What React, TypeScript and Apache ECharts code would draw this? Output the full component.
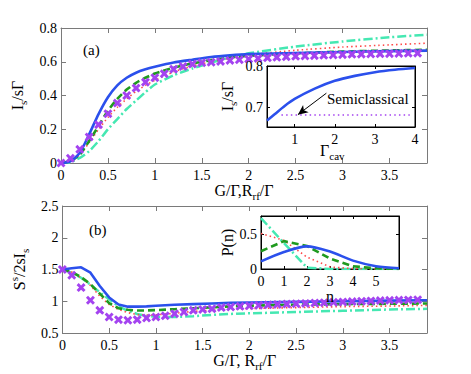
import React, { useEffect, useRef } from 'react';
import * as echarts from 'echarts';

const FONT = 'Times New Roman, Liberation Serif, serif';
const GRAY = '#7a7a7a';
const C_BLUE = '#2b50ec';
const C_GREEN = '#1f9a1f';
const C_RED = '#ff4a4a';
const C_CYAN = '#45e8b2';
const C_PURPLE = '#a443f0';

// ---- panel (a) / (b) shared x grid for lines ----
const xLine = [0, 0.1, 0.2, 0.3, 0.4, 0.5, 0.6, 0.7, 0.8, 0.9, 1.0, 1.2, 1.4, 1.6, 1.8, 2.0, 2.5, 3.0, 3.5, 3.9];
const xCross = [0, 0.1, 0.2, 0.3, 0.4, 0.5, 0.6, 0.7, 0.8, 0.9, 1.0, 1.1, 1.2, 1.3, 1.4, 1.5, 1.6, 1.7, 1.8, 1.9,
  2.0, 2.1, 2.2, 2.3, 2.4, 2.5, 2.6, 2.7, 2.8, 2.9, 3.0, 3.1, 3.2, 3.3, 3.4, 3.5, 3.6, 3.7, 3.8];

// panel (a): I_s / sΓ
const blueA = [0, 0.01, 0.06, 0.17, 0.29, 0.39, 0.46, 0.505, 0.535, 0.555, 0.57, 0.595, 0.612, 0.628, 0.638, 0.645, 0.652, 0.658, 0.663, 0.666];
const greenA = [0, 0.01, 0.05, 0.13, 0.22, 0.31, 0.38, 0.435, 0.475, 0.505, 0.53, 0.565, 0.59, 0.61, 0.625, 0.635, 0.65, 0.66, 0.667, 0.671];
const redA = [0, 0.01, 0.05, 0.12, 0.2, 0.27, 0.33, 0.38, 0.425, 0.46, 0.49, 0.54, 0.575, 0.6, 0.62, 0.64, 0.668, 0.687, 0.7, 0.71];
const cyanA = [0, 0.005, 0.03, 0.07, 0.13, 0.2, 0.26, 0.32, 0.37, 0.42, 0.465, 0.52, 0.56, 0.595, 0.625, 0.65, 0.69, 0.72, 0.745, 0.76];
const purpleA = [0, 0.028, 0.081, 0.154, 0.227, 0.292, 0.355, 0.4, 0.444, 0.479, 0.505, 0.529, 0.556, 0.572, 0.586, 0.594, 0.597, 0.602, 0.608, 0.612,
  0.616, 0.62, 0.623, 0.626, 0.629, 0.632, 0.634, 0.636, 0.638, 0.64, 0.642, 0.644, 0.645, 0.646, 0.647, 0.648, 0.649, 0.65, 0.651];

// panel (b): S^s / 2sI_s
const blueB = [1.5, 1.52, 1.535, 1.45, 1.24, 1.06, 0.95, 0.915, 0.915, 0.92, 0.93, 0.945, 0.955, 0.965, 0.975, 0.98, 0.99, 1.0, 1.01, 1.015];
const greenB = [1.5, 1.46, 1.38, 1.27, 1.12, 0.97, 0.89, 0.865, 0.855, 0.855, 0.86, 0.875, 0.89, 0.905, 0.92, 0.93, 0.945, 0.955, 0.96, 0.965];
const redB = [1.5, 1.46, 1.37, 1.25, 1.08, 0.95, 0.87, 0.82, 0.79, 0.78, 0.785, 0.81, 0.84, 0.86, 0.875, 0.885, 0.9, 0.915, 0.925, 0.935];
const cyanB = [1.5, 1.45, 1.37, 1.26, 1.14, 1.03, 0.92, 0.85, 0.8, 0.77, 0.755, 0.75, 0.765, 0.785, 0.8, 0.81, 0.83, 0.85, 0.87, 0.88];
const purpleB = [1.5, 1.41, 1.215, 1.015, 0.857, 0.752, 0.71, 0.7, 0.71, 0.736, 0.752, 0.77, 0.805, 0.83, 0.857, 0.87, 0.88, 0.9, 0.91,
  0.92, 0.93, 0.937, 0.943, 0.95, 0.955, 0.96, 0.966, 0.972, 0.978, 0.984, 0.99, 0.995, 1.0, 1.005, 1.01, 1.014, 1.018, 1.021, 1.024];

// inset (a): I_s/sΓ vs Γ_cav
const xInsetA = [0.31, 0.5, 0.75, 1, 1.5, 2, 2.5, 3, 3.5, 4];
const blueInsetA = [0.668, 0.683, 0.703, 0.72, 0.745, 0.764, 0.776, 0.785, 0.791, 0.795];
const xSemi = [0.67, 3.87];
const semiInsetA = [0.681, 0.681];

// inset (b): P(n)
const nVals = [0, 1, 2, 3, 4, 5, 6];
const blueP = [0.11, 0.245, 0.325, 0.25, 0.12, 0.04, 0.01];
const greenP = [0.255, 0.4, 0.33, 0.15, 0.04, 0.01, 0.0];
const redP = [0.51, 0.41, 0.17, 0.03, 0.005, 0, 0];
const cyanP = [0.73, 0.37, 0.02, 0, 0, 0, 0];

// tick values
const ticksXMain = [0, 0.5, 1, 1.5, 2, 2.5, 3, 3.5];
const ticksYA = [0, 0.2, 0.4, 0.6, 0.8];
const ticksYB = [0.5, 1, 1.5, 2, 2.5];
const ticksXInsetA = [1, 2, 3, 4];
const ticksYInsetA = [0.7, 0.8];
const ticksXInsetB = [0, 1, 2, 3, 4, 5];
const ticksYInsetB = [0, 0.5];

const pair = (xs: number[], ys: number[]) => xs.map((x, i) => [x, ys[i]]);

const CROSS = 'path://M0,2.3L2.3,0L5,2.7L7.7,0L10,2.3L7.3,5L10,7.7L7.7,10L5,7.3L2.3,10L0,7.7L2.7,5Z';

const richStyles = {
  n: { fontFamily: FONT, fontSize: 16, color: '#000', lineHeight: 22 },
  sub: { fontFamily: FONT, fontSize: 11, color: '#000', lineHeight: 11, verticalAlign: 'bottom' },
  sup: { fontFamily: FONT, fontSize: 11, color: '#000', lineHeight: 11, verticalAlign: 'top' },
};

function valAxis(opts: any) {
  const { grid, min, max, ticks, position, labels, color, tickLen, z, name, nameGap, fontSize } = opts;
  return {
    type: 'value',
    gridIndex: grid,
    min,
    max,
    position,
    z: z ?? 0,
    axisLine: { show: true, onZero: false, lineStyle: { color, width: 1 } },
    axisTick: { show: true, inside: true, length: tickLen, customValues: ticks, lineStyle: { color } },
    axisLabel: labels
      ? { show: true, customValues: ticks, color: '#000', fontFamily: FONT, fontSize: fontSize ?? 14, margin: opts.margin ?? 5 }
      : { show: false },
    splitLine: { show: false },
    name: name ?? '',
    nameLocation: 'middle',
    nameGap: nameGap ?? 20,
    nameTextStyle: { rich: richStyles, fontFamily: FONT, fontSize: 16, color: '#000' },
  };
}

function lineSeries(x: number, y: number, data: number[][], color: string, type: any, width: number, z = 2, smooth: any = false) {
  return {
    type: 'line',
    xAxisIndex: x,
    yAxisIndex: y,
    data,
    showSymbol: false,
    symbol: 'none',
    smooth,
    z,
    lineStyle: { color, width, type },
  };
}

const option: any = {
  animation: false,
  backgroundColor: '#fff',
  textStyle: { fontFamily: FONT },
  grid: [
    { left: 61, top: 28, width: 366, height: 135 },
    { left: 61, top: 206, width: 366, height: 127 },
    { left: 267, top: 66, width: 148, height: 61, show: true, backgroundColor: '#fff', borderColor: '#000', borderWidth: 1, z: 10 },
    { left: 261, top: 216, width: 138, height: 53, show: true, backgroundColor: '#fff', borderColor: '#000', borderWidth: 1, z: 10 },
  ],
  xAxis: [
    valAxis({ grid: 0, min: 0, max: 3.9, ticks: ticksXMain, position: 'bottom', labels: true, color: GRAY, tickLen: 5,
      name: '{n|G/Γ,R}{sub|rf}{n|/Γ}', nameGap: 15 }),
    valAxis({ grid: 0, min: 0, max: 3.9, ticks: ticksXMain, position: 'top', labels: false, color: GRAY, tickLen: 5 }),
    valAxis({ grid: 1, min: 0, max: 3.9, ticks: ticksXMain, position: 'bottom', labels: true, color: GRAY, tickLen: 5,
      name: '{n|G/Γ, R}{sub|rf}{n|/Γ}', nameGap: 15 }),
    valAxis({ grid: 1, min: 0, max: 3.9, ticks: ticksXMain, position: 'top', labels: false, color: GRAY, tickLen: 5 }),
    valAxis({ grid: 2, min: 0.31, max: 4, ticks: ticksXInsetA, position: 'bottom', labels: true, color: '#000', tickLen: 3, z: 12 }),
    valAxis({ grid: 2, min: 0.31, max: 4, ticks: ticksXInsetA, position: 'top', labels: false, color: '#000', tickLen: 3, z: 12 }),
    valAxis({ grid: 3, min: 0, max: 6, ticks: ticksXInsetB, position: 'bottom', labels: true, color: '#000', tickLen: 3, z: 12,
      name: '{n|n}', nameGap: 13 }),
    valAxis({ grid: 3, min: 0, max: 6, ticks: ticksXInsetB, position: 'top', labels: false, color: '#000', tickLen: 3, z: 12 }),
  ],
  yAxis: [
    valAxis({ grid: 0, min: 0, max: 0.8, ticks: ticksYA, position: 'left', labels: true, color: GRAY, tickLen: 5, margin: 4,
      name: '{n|I}{sub|s}{n|/sΓ}', nameGap: 27 }),
    valAxis({ grid: 0, min: 0, max: 0.8, ticks: ticksYA, position: 'right', labels: false, color: GRAY, tickLen: 5 }),
    valAxis({ grid: 1, min: 0.5, max: 2.5, ticks: ticksYB, position: 'left', labels: true, color: GRAY, tickLen: 5, margin: 4,
      name: '{n|S}{sup|s}{n|/2sI}{sub|s}', nameGap: 25 }),
    valAxis({ grid: 1, min: 0.5, max: 2.5, ticks: ticksYB, position: 'right', labels: false, color: GRAY, tickLen: 5 }),
    valAxis({ grid: 2, min: 0.652, max: 0.8, ticks: ticksYInsetA, position: 'left', labels: true, color: '#000', tickLen: 3, z: 12, margin: 4,
      name: '{n|I}{sub|s}{n|/sΓ}', nameGap: 29 }),
    valAxis({ grid: 2, min: 0.652, max: 0.8, ticks: ticksYInsetA, position: 'right', labels: false, color: '#000', tickLen: 3, z: 12 }),
    valAxis({ grid: 3, min: 0, max: 0.76, ticks: ticksYInsetB, position: 'left', labels: true, color: '#000', tickLen: 3, z: 12, margin: 4,
      name: '{n|P(n)}', nameGap: 23 }),
    valAxis({ grid: 3, min: 0, max: 0.76, ticks: ticksYInsetB, position: 'right', labels: false, color: '#000', tickLen: 3, z: 12 }),
  ],
  series: [
    // panel (a)
    lineSeries(0, 0, pair(xLine, cyanA), C_CYAN, [9, 3, 2, 3], 2.5, 2, 0.2),
    lineSeries(0, 0, pair(xLine, redA), C_RED, [1.5, 3], 1.6, 2, 0.2),
    lineSeries(0, 0, pair(xLine, greenA), C_GREEN, [7, 4], 2.6, 2, 0.2),
    lineSeries(0, 0, pair(xLine, blueA), C_BLUE, 'solid', 2.6, 3, 0.2),
    {
      type: 'scatter', xAxisIndex: 0, yAxisIndex: 0, data: pair(xCross, purpleA),
      symbol: CROSS, symbolSize: 9, itemStyle: { color: C_PURPLE, opacity: 1 }, z: 4,
    },
    // panel (b)
    lineSeries(2, 2, pair(xLine, cyanB), C_CYAN, [9, 3, 2, 3], 2.5, 2),
    lineSeries(2, 2, pair(xLine, redB), C_RED, [1.5, 3], 1.6, 2),
    lineSeries(2, 2, pair(xLine, greenB), C_GREEN, [7, 4], 2.6, 2),
    lineSeries(2, 2, pair(xLine, blueB), C_BLUE, 'solid', 2.6, 3),
    {
      type: 'scatter', xAxisIndex: 2, yAxisIndex: 2, data: pair(xCross, purpleB),
      symbol: CROSS, symbolSize: 9, itemStyle: { color: C_PURPLE, opacity: 1 }, z: 4,
    },
    // inset (a)
    lineSeries(4, 4, pair(xInsetA, blueInsetA), C_BLUE, 'solid', 2.6, 12, 0.3),
    {
      ...lineSeries(4, 4, pair(xSemi, semiInsetA), C_PURPLE, [1.5, 3.2], 1.6, 12),
      markLine: {
        silent: true,
        z: 20,
        symbol: ['none', 'arrow'],
        symbolSize: [7, 10],
        label: { show: false },
        lineStyle: { color: '#000', width: 1, type: 'solid' },
        data: [[{ coord: [1.79, 0.734] }, { coord: [1.08, 0.682] }]],
      },
    },
    // inset (b)
    lineSeries(6, 6, pair(nVals, cyanP), C_CYAN, [9, 3, 2, 3], 2.5, 12),
    lineSeries(6, 6, pair(nVals, redP), C_RED, [1.5, 3], 1.6, 12),
    lineSeries(6, 6, pair(nVals, greenP), C_GREEN, [7, 4], 2.6, 12),
    lineSeries(6, 6, pair(nVals, blueP), C_BLUE, 'solid', 2.6, 12, 0.3),
  ],
  graphic: [
    { type: 'text', x: 83, y: 50, z: 100, style: { text: '(a)', font: `15px ${FONT}`, fill: '#000', textVerticalAlign: 'middle' } },
    { type: 'text', x: 89, y: 230, z: 100, style: { text: '(b)', font: `15px ${FONT}`, fill: '#000', textVerticalAlign: 'middle' } },
    { type: 'text', x: 327, y: 99, z: 100, style: { text: 'Semiclassical', font: `15px ${FONT}`, fill: '#000', textVerticalAlign: 'middle' } },
    {
      type: 'text', x: 320, y: 150, z: 100,
      style: { text: '{n|Γ}{sub|cav}', rich: richStyles, fill: '#000', textVerticalAlign: 'middle', font: `16px ${FONT}` },
    },
  ],
};

export default function App() {
  const ref = useRef<HTMLDivElement>(null);
  useEffect(() => {
    const chart = echarts.init(ref.current!, null, { renderer: 'svg' });
    chart.setOption(option);
    return () => chart.dispose();
  }, []);
  return <div ref={ref} style={{ position: 'fixed', left: 0, top: 0, width: 471, height: 374, background: '#fff' }} />;
}
